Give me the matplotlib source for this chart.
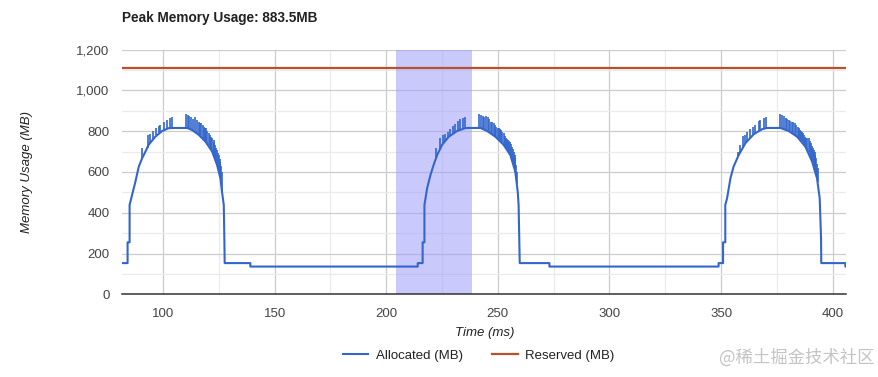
import matplotlib
matplotlib.use("Agg")
import matplotlib.pyplot as plt
from matplotlib.ticker import MultipleLocator, FuncFormatter

plt.rcParams['font.family'] = ['Liberation Sans', 'DejaVu Sans']

# allocated memory: the smooth base curve (time in ms, MB)
alloc_t = [81.6, 84.1, 84.1, 85.0, 85.0, 86.1, 87.6, 89.1, 90.6, 92.1, 93.5, 96.5,
           99.6, 102.5, 104.7, 110.8, 113.0, 116.0, 119.0, 122.0, 124.2, 125.7,
           126.4, 127.2, 127.5, 127.6, 139.1, 139.1,
           214.1, 214.1, 216.3, 216.3, 217.1, 217.1, 218.3, 219.8, 221.2, 222.8,
           225.0, 228.0, 231.7, 235.4, 236.5, 242.2, 245.2, 248.9, 252.6, 255.6,
           257.8, 258.9, 259.3, 259.8, 273.1, 273.1,
           348.9, 348.9, 350.9, 350.9, 351.9, 351.9, 352.7, 354.2, 355.6, 357.9,
           360.9, 364.6, 368.4, 370.6, 376.6, 380.3, 384.1, 387.8, 390.8, 393.0,
           394.2, 394.8, 394.9, 405.7, 405.7, 406.0]
alloc_mb = [153, 153, 255, 255, 438, 487, 552, 626, 667, 700, 733, 773,
            801, 815, 816, 816, 806, 782, 749, 700, 634, 569,
            503, 438, 242, 153, 153, 136,
            136, 153, 153, 255, 255, 438, 520, 585, 634, 683,
            733, 773, 801, 815, 816, 816, 801, 773, 733, 683,
            602, 503, 438, 153, 153, 136,
            136, 153, 153, 255, 255, 438, 471, 569, 626, 683,
            741, 785, 810, 816, 816, 801, 773, 724, 651, 569,
            471, 275, 153, 153, 136, 136]

# short allocation spikes on top of the curve: time, low, high
spike_t = [90.6, 93.1, 94.0, 95.5, 97.0, 98.0, 98.8, 100.6, 101.8, 103.3, 104.0,
           110.3, 111.0, 111.5, 112.3, 114.5, 116.0, 117.2, 118.2, 119.3, 120.4,
           122.0, 122.7, 123.4, 124.2, 124.9, 125.7, 126.4,
           113.4, 115.2, 116.6, 117.7, 118.8, 119.8, 120.9, 121.5, 123.0, 123.8,
           124.6, 125.3, 126.0,
           222.3, 224.2, 225.3, 226.2, 227.5, 228.7, 229.9, 230.6, 232.2, 233.2,
           234.4, 235.4, 241.7, 242.5, 243.2, 243.9, 245.4, 246.9, 248.1, 249.3,
           250.4, 251.4, 252.6, 253.8, 254.6, 255.6, 256.4, 257.1, 257.8, 258.6,
           244.6, 246.2, 247.5, 248.7, 249.9, 250.9, 252.0, 253.2, 254.2, 255.1,
           256.0, 256.8, 257.5, 258.2,
           357.4, 358.3, 359.7, 360.6, 361.6, 363.1, 364.2, 365.1, 366.8, 367.6,
           369.1, 370.2, 376.6, 377.3, 378.0, 378.9, 380.3, 381.8, 383.0, 384.3,
           385.5, 386.3, 387.3, 388.2, 389.2, 390.3, 391.2, 391.9, 392.7, 393.3,
           379.6, 381.0, 382.4, 383.6, 384.9, 385.9, 386.8, 387.8, 388.7, 389.8,
           390.8, 391.6, 392.3, 393.0]
spike_lo = [667, 720, 740, 760, 780, 790, 795, 805, 812, 815, 816,
            816, 816, 815, 810, 795, 782, 770, 758, 745, 730,
            700, 685, 665, 634, 600, 569, 503,
            804, 788, 776, 764, 751, 737, 720, 710, 676, 648,
            617, 585, 540,
            670, 715, 735, 748, 765, 778, 790, 795, 803, 808,
            812, 815, 816, 815, 812, 808, 800, 790, 780, 770,
            760, 748, 733, 718, 705, 683, 660, 635, 602, 540,
            804, 794, 785, 775, 765, 754, 740, 725, 712, 694,
            672, 648, 616, 570,
            672, 695, 720, 737, 750, 768, 782, 790, 802, 806,
            812, 815, 816, 815, 812, 808, 801, 790, 782, 770,
            760, 752, 735, 720, 700, 665, 645, 625, 590, 550,
            804, 796, 786, 776, 765, 756, 745, 724, 710, 683,
            651, 635, 608, 569]
spike_hi = [719, 782, 785, 801, 815, 827, 831, 847, 855, 864, 868,
            883, 880, 875, 870, 871, 847, 839, 822, 814, 790,
            765, 757, 733, 708, 683, 651, 602,
            860, 855, 842, 830, 818, 800, 780, 770, 745, 720,
            695, 665, 630,
            719, 765, 782, 785, 798, 811, 827, 834, 852, 860,
            867, 871, 883, 880, 875, 871, 871, 847, 839, 822,
            814, 806, 790, 765, 757, 749, 724, 700, 667, 602,
            873, 860, 843, 830, 818, 810, 798, 778, 761, 753,
            737, 712, 684, 635,
            700, 733, 778, 782, 798, 811, 822, 831, 850, 855,
            867, 871, 883, 880, 875, 867, 855, 847, 839, 822,
            806, 798, 782, 765, 765, 741, 716, 700, 667, 618,
            861, 851, 843, 830, 814, 802, 790, 773, 765, 753,
            728, 708, 684, 640]

reserved_t = [81.6, 406.0]
reserved_mb = [1110, 1110]

highlight = (204.5, 238.4)
peak_mb = 883.5

blue = '#3366cc'
red = '#b9522c'

fig = plt.figure(figsize=(8.79, 3.77), dpi=100)
ax = fig.add_axes([0.1388, 0.2194, 0.8237, 0.6488])

ax.plot(alloc_t, alloc_mb, color=blue, lw=1.5, label='Allocated (MB)', zorder=4)
ax.vlines(spike_t, spike_lo, spike_hi, color=blue, lw=1.2, zorder=4)
ax.plot(reserved_t, reserved_mb, color=red, lw=1.6, label='Reserved (MB)', zorder=4)
ax.axvspan(highlight[0], highlight[1], color=(0.62, 0.62, 0.98), alpha=0.55,
           lw=0, zorder=3)

ax.set_xlim(81.6, 406.0)
ax.set_ylim(0, 1200)
ax.xaxis.set_major_locator(MultipleLocator(50))
ax.xaxis.set_minor_locator(MultipleLocator(25))
ax.yaxis.set_major_locator(MultipleLocator(200))
ax.yaxis.set_minor_locator(MultipleLocator(100))
ax.yaxis.set_major_formatter(FuncFormatter(lambda v, p: f'{int(v):,}'))
ax.grid(which='major', color='#cccccc', lw=0.9, zorder=0)
ax.grid(which='minor', color='#ebebeb', lw=0.9, zorder=0)
ax.set_axisbelow(True)
for s in ['top', 'right', 'left']:
    ax.spines[s].set_visible(False)
ax.spines['bottom'].set_color('#333333')
ax.spines['bottom'].set_linewidth(1.1)
ax.spines['bottom'].set_zorder(5)
ax.tick_params(which='both', length=0, labelsize=9.5, colors='#444444')
ax.tick_params(axis='x', pad=10)
ax.tick_params(axis='y', pad=9)

fig.text(0.1388, 0.953, f'Peak Memory Usage: {peak_mb}MB', fontsize=9.8,
         fontweight='bold', color='#222222', ha='left', va='center')
fig.text(0.031, 0.5438, 'Memory Usage (MB)', rotation=90, fontsize=9.5,
         style='italic', color='#222222', ha='center', va='center')
fig.text(0.551, 0.117, 'Time (ms)', fontsize=9.5, style='italic',
         color='#222222', ha='center', va='center')

fig.legend(loc='center', bbox_to_anchor=(0.545, 0.056), ncol=2, frameon=False,
           fontsize=9.5, handlelength=1.9, handletextpad=0.6, columnspacing=2.2,
           labelcolor='#222222')

fig.text(0.995, 0.052, '@稀土掘金技术社区', fontsize=12.5, color='#c4c4c4',
         ha='right', va='center', family=['Noto Sans CJK SC', 'DejaVu Sans'])

fig.savefig('out.png', dpi=100)
